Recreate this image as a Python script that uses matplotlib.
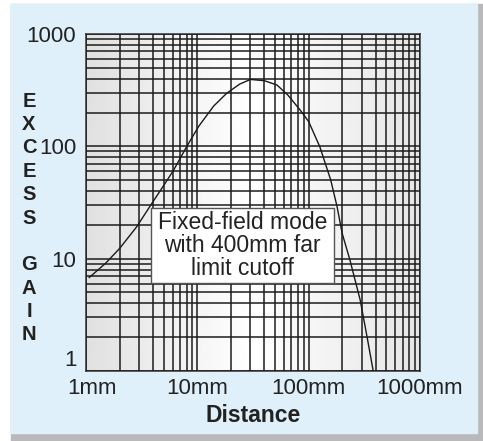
import numpy as np
import matplotlib
matplotlib.use("Agg")
import matplotlib.pyplot as plt
from matplotlib.patches import Rectangle
from matplotlib.transforms import ScaledTranslation

plt.rcParams['font.family'] = ['Liberation Sans', 'DejaVu Sans']

# curve (distance in mm, excess gain)
distance = [1.07, 1.5, 2.0, 2.85, 3.9, 5.0, 6.1, 8.0, 10.3, 14, 18.3, 24, 30,
            40, 52, 65, 84, 100, 126, 158, 180, 200, 235, 290, 335, 380]
gain = [6.8, 9.1, 12.3, 19.2, 31, 45, 61, 99, 151, 228, 296, 358, 394,
        384, 351, 286, 210, 166, 99, 50, 29, 16.8, 9.7, 4.3, 2.0, 1.0]

x_ticks = [1, 10, 100, 1000]
x_labels = ['1mm', '10mm', '100mm', '1000mm']
y_ticks = [1, 10, 100, 1000]
y_labels = ['1', '10', '100', '1000']
note = 'Fixed-field mode\nwith 400mm far\nlimit cutoff'

W, H = 483, 441
fig = plt.figure(figsize=(W / 100, H / 100), dpi=100)
fig.patch.set_facecolor('white')

# grey shadow and light blue panel
fig.patches.append(Rectangle((11 / W, 0), 1 - 11 / W, (H - 4) / H,
                             transform=fig.transFigure, color='#b9b9bb', zorder=-2))
fig.patches.append(Rectangle((11 / W, 8 / H), (477 - 11) / W, (433 - 4) / H,
                             transform=fig.transFigure, color='#dff0fb', zorder=-1))

ax = fig.add_axes([86 / W, 1 - 371 / H, 334 / W, 337 / H])
ax.set_xscale('log')
ax.set_yscale('log')
ax.set_xlim(1, 1000)
ax.set_ylim(1, 1000)

# soft grey-white-grey shading behind the grid
xs = np.linspace(0, 1, 300)
shade = np.interp(xs, [0, 0.49, 1], [0.88, 1.0, 0.9])
ax.imshow(shade[None, :], extent=[0, 1, 0, 1], transform=ax.transAxes,
          cmap='gray', vmin=0, vmax=1, aspect='auto', zorder=0)

ax.grid(which='both', color='#1c1c1c', lw=1.1, zorder=1)
ax.set_axisbelow(False)
for s in ax.spines.values():
    s.set_color('#333333')
    s.set_linewidth(1.1)

ax.plot(distance, gain, color='#1a1a1a', lw=1.0, zorder=3)

ax.set_xticks(x_ticks)
ax.set_xticklabels(x_labels)
ax.set_yticks(y_ticks)
ax.set_yticklabels(y_labels)
ax.tick_params(which='both', length=0, labelsize=16, colors='#222222')
ax.tick_params(axis='x', pad=5)
ax.tick_params(axis='y', pad=7)

# the "1" sits above the corner, "1mm" a little to the right
ax.get_yticklabels()[0].set_va('bottom')
lab = ax.get_xticklabels()[0]
lab.set_transform(lab.get_transform() + ScaledTranslation(6 / 100, 0, fig.dpi_scale_trans))

# annotation box
ax.add_patch(Rectangle((0.194, 0.261), 0.5485, 0.2227, transform=ax.transAxes,
                       facecolor='white', edgecolor='#555555', lw=1.0, zorder=4))
ax.text(0.468, 0.372, note, transform=ax.transAxes, ha='center', va='center',
        multialignment='center', fontsize=16.5, color='#222222',
        linespacing=0.98, zorder=5)

fig.text((86 + 334 / 2) / W, 1 - 415 / H, 'Distance', ha='center', va='center',
         fontsize=16.5, fontweight='bold', color='#222222')
fig.text(29 / W, 1 - 218 / H, 'E\nX\nC\nE\nS\nS\n\nG\nA\nI\nN', ha='center',
         va='center', fontsize=14.5, fontweight='bold', color='#222222',
         linespacing=1.29)

fig.savefig('out.png', dpi=100)
